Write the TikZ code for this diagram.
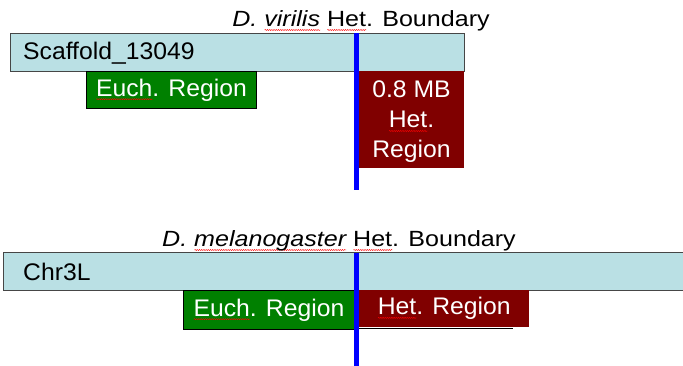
\documentclass[tikz,border=0pt]{standalone}
\usepackage{fontspec}
\usetikzlibrary{decorations.pathmorphing}
\setmainfont[FakeStretch=1.03]{Liberation Sans}
\newfontfamily\titlefont[FakeStretch=1.14]{Liberation Sans}
% red wavy spell-check underline under a word
\newcommand\spell[1]{\setbox0\hbox{#1}\leavevmode\rlap{\raisebox{-3pt}{\tikz[baseline=0pt]\draw[red, line width=0.45pt, decorate, decoration={snake, amplitude=0.5pt, segment length=2.2pt}] (0pt,0pt) -- (\wd0,0pt);}}\box0}
\definecolor{barblue}{RGB}{186,224,228}
\definecolor{euchgreen}{RGB}{0,128,0}
\definecolor{hetred}{RGB}{128,0,0}
\definecolor{edgegray}{RGB}{70,70,70}
\tikzset{
  bar/.style={draw=edgegray, line width=0.9pt, fill=barblue, inner sep=0pt, anchor=north west},
  euch/.style={draw=black, line width=0.9pt, fill=euchgreen, inner sep=0pt, anchor=north west,
    text=white, font=\fontsize{24}{30}\selectfont},
  het/.style={fill=hetred, inner sep=0pt, anchor=north west,
    text=white, font=\fontsize{24}{30}\selectfont},
  barlabel/.style={inner sep=0pt, anchor=base west, font=\fontsize{24}{30}\selectfont},
  title/.style={inner sep=0pt, anchor=base, font=\titlefont\fontsize{22}{26}\selectfont},
  boundary/.style={draw={rgb,255:red,0;green,0;blue,255}, line width=4.5pt},
}
\begin{document}
\begin{tikzpicture}[x=1pt,y=-1pt]
\useasboundingbox (0,0) rectangle (683,366);

% D. virilis scaffold
\node[title] (tv) at (361,27) {\textit{D. \spell{virilis}} \spell{Het}. Boundary};
\node[bar, minimum width=454pt, minimum height=38pt] (scaf) at (10,33) {};
\node[barlabel] (scaflab) at (23,60) {Scaffold\_13049};
\node[euch, minimum width=170pt, minimum height=37pt] (ev) at (86,71) {\spell{Euch}. Region};
\node[het, minimum width=105pt, minimum height=97pt] (hv) at (359,71) {};
\node[inner sep=0pt, anchor=base, text=white, align=center,
      font=\fontsize{24}{30}\selectfont] (hvlab) at (411.5,158)
      {0.8 MB\\\spell{Het}.\\Region};
\coordinate (bvt) at (356.5,33);
\coordinate (bvb) at (356.5,190);
\draw[boundary] (bvt) -- (bvb);

% D. melanogaster chromosome arm
\node[title] (tm) at (339,247) {\textit{D. \spell{melanogaster}} \spell{Het}. Boundary};
\node[bar, minimum width=690pt, minimum height=38pt] (chr) at (3,252) {};
\node[barlabel] (chrlab) at (23,280) {Chr3L};
\node[euch, minimum width=171pt, minimum height=39pt] (em) at (183,290) {\spell{Euch}. Region};
\node[het, minimum width=170pt, minimum height=37pt] (hm) at (359,290) {\spell{Het}. Region};
\coordinate (ul1) at (354,328.5);
\coordinate (ul2) at (513,328.5);
\draw[black, line width=0.9pt] (ul1) -- (ul2);
\coordinate (bmt) at (356.5,253);
\coordinate (bmb) at (356.5,366);
\draw[boundary] (bmt) -- (bmb);
\end{tikzpicture}
\end{document}
